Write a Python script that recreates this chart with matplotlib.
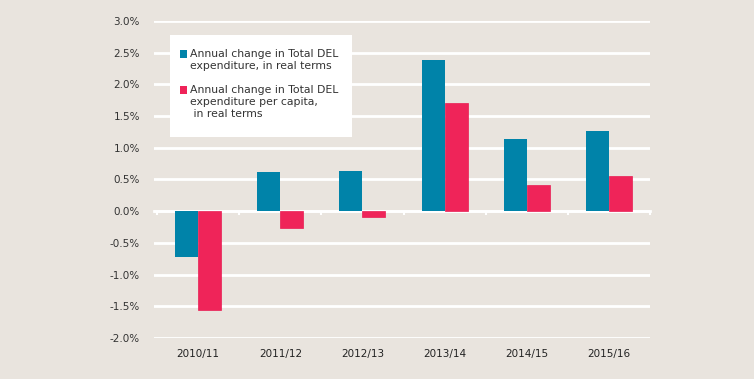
import numpy as np
import matplotlib.pyplot as plt
from matplotlib.patches import Rectangle
from matplotlib.ticker import FuncFormatter

years = ["2010/11", "2011/12", "2012/13", "2013/14", "2014/15", "2015/16"]
total_del = [-0.73, 0.61, 0.64, 2.38, 1.13, 1.27]
per_capita = [-1.55, -0.26, -0.09, 1.71, 0.41, 0.56]
labels = ["Annual change in Total DEL\nexpenditure, in real terms",
          "Annual change in Total DEL\nexpenditure per capita,\n in real terms"]

bg = "#e9e4de"
blue = "#0083a9"
pink = "#ef2459"
plt.rcParams['font.family'] = ['DejaVu Sans']

fig = plt.figure(figsize=[7.54, 3.79], dpi=100, facecolor=bg)
ax = fig.add_axes([0.204, 0.108, 0.658, 0.837])
ax.set_facecolor(bg)

x = np.arange(len(years))
w = 0.28
ax.bar(x - w/2, total_del, w, color=blue, zorder=3)
ax.bar(x + w/2, per_capita, w, color=pink, edgecolor="#e81d52", linewidth=0.5, zorder=3)

ax.set_ylim(-2, 3)
# grid starts a little left of the first category boundary
ax.set_xlim(-0.54, len(years) - 0.5)
ax.set_yticks(np.arange(-2, 3.01, 0.5))
ax.yaxis.set_major_formatter(FuncFormatter(lambda v, p: "{:.1f}%".format(v)))
ax.grid(axis="y", color="white", linewidth=2, zorder=0)
ax.set_axisbelow(True)
for s in ax.spines.values():
	s.set_visible(False)
ax.spines["bottom"].set_visible(True)
ax.spines["bottom"].set_position(("data", 0))
ax.spines["bottom"].set_color("white")
ax.spines["bottom"].set_linewidth(2)

ax.set_xticks(x)
ax.set_xticklabels(years)
ax.set_xticks(np.arange(-0.5, len(years), 1), minor=True)
ax.tick_params(axis="x", which="major", length=0, labelsize=7.5, labelcolor="#222222")
ax.tick_params(axis="x", which="minor", length=3, width=1.5, color="white", direction="out")
ax.tick_params(axis="y", length=0, pad=10, labelsize=7.5, labelcolor="#333333")
for lab in ax.get_xticklabels():
	lab.set_transform(ax.get_xaxis_transform())
	lab.set_position((lab.get_position()[0], -0.035))
	lab.set_verticalalignment("top")

# legend drawn by hand so the squares sit on the first line of each label
W, H = 754., 379.
fig.patches.append(Rectangle((170/W, 1-137/H), 182/W, 102/H, transform=fig.transFigure,
	facecolor="white", edgecolor="none", zorder=5))
for i, (lab, col) in enumerate(zip(labels, [blue, pink])):
	yc = [54, 90][i]
	fig.patches.append(Rectangle((180/W, 1-(yc+3.5)/H), 7/W, 7/H, transform=fig.transFigure,
		facecolor=col, edgecolor="none", zorder=6))
	fig.text(190.5/W, 1-(yc-5)/H, lab, fontsize=7.8, color="#333333", va="top",
		linespacing=1.22, zorder=7, transform=fig.transFigure)

fig.savefig("out.png", dpi=100, facecolor=bg)
